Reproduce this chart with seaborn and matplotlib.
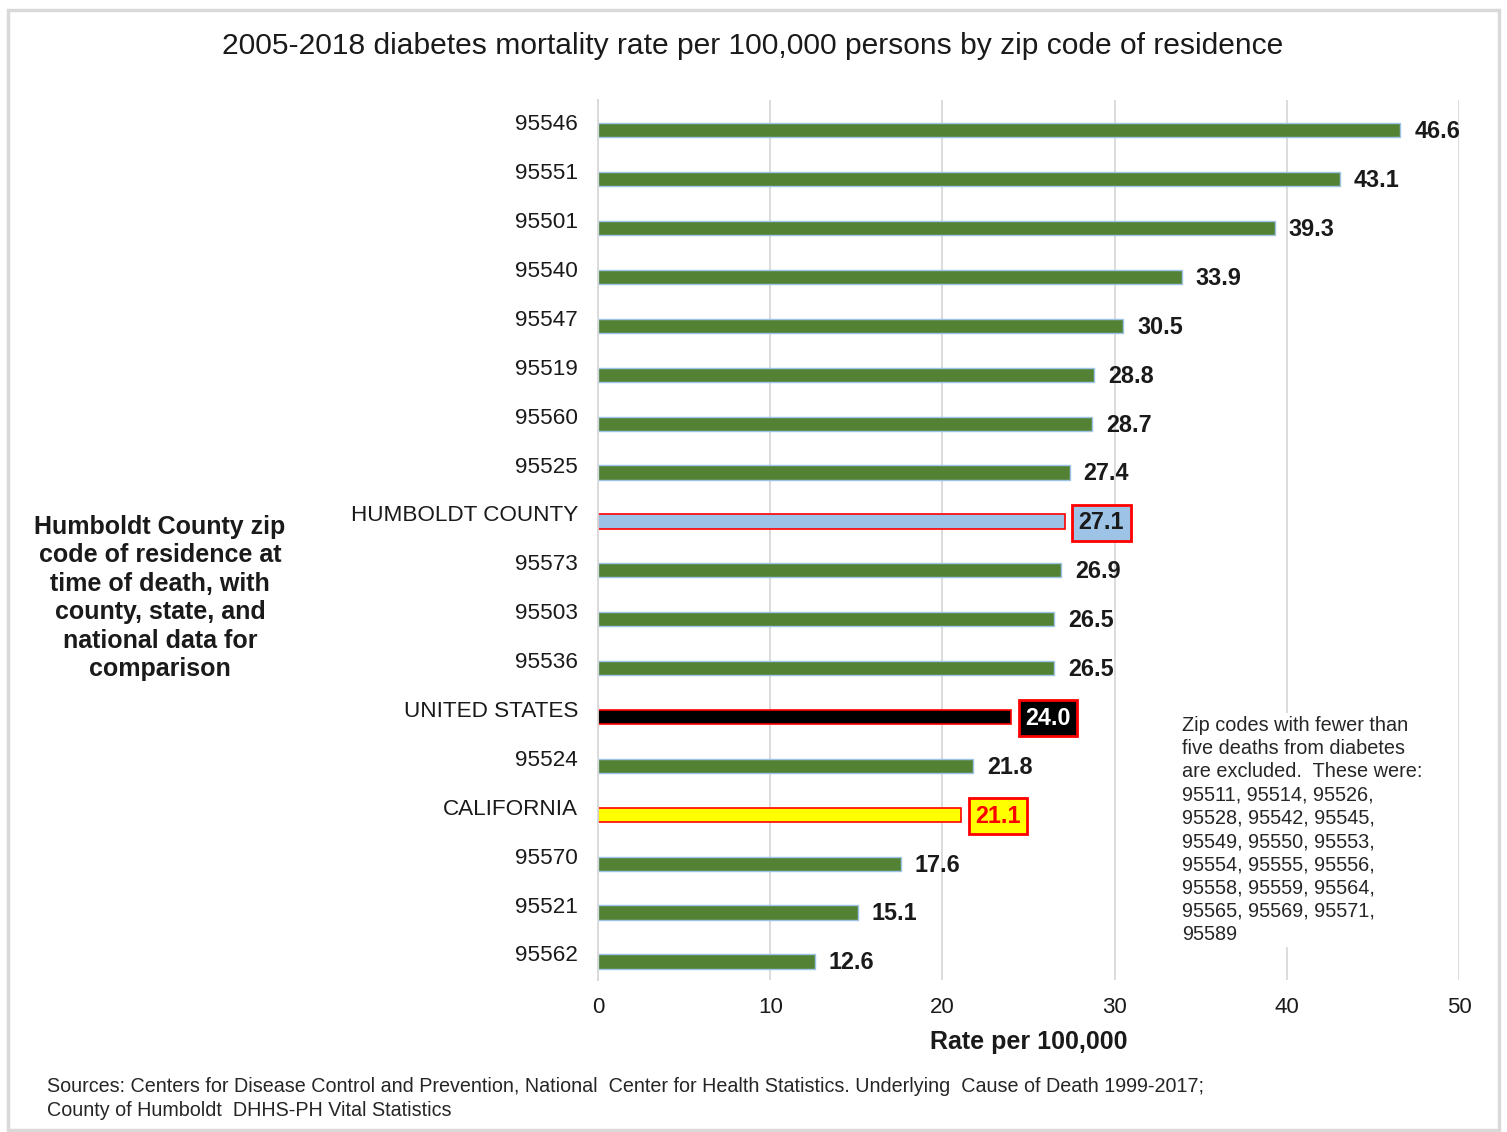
import matplotlib
matplotlib.use("Agg")
import matplotlib.pyplot as plt
import matplotlib.transforms as mtransforms
from matplotlib.patches import Rectangle
import seaborn as sns
import pandas as pd

# Diabetes mortality rate per 100,000, sorted high to low
areas = ["95546", "95551", "95501", "95540", "95547", "95519", "95560", "95525",
         "HUMBOLDT COUNTY", "95573", "95503", "95536", "UNITED STATES", "95524",
         "CALIFORNIA", "95570", "95521", "95562"]
rates = [46.6, 43.1, 39.3, 33.9, 30.5, 28.8, 28.7, 27.4,
         27.1, 26.9, 26.5, 26.5, 24.0, 21.8,
         21.1, 17.6, 15.1, 12.6]

x_ticks = [0, 10, 20, 30, 40, 50]

title_text = "2005-2018 diabetes mortality rate per 100,000 persons by zip code of residence"
ylabel_text = ("Humboldt County zip\ncode of residence at\ntime of death, with\n"
               "county, state, and\nnational data for\ncomparison")
xlabel_text = "Rate per 100,000"
note_text = ("Zip codes with fewer than\nfive deaths from diabetes\n"
             "are excluded.  These were:\n95511, 95514, 95526,\n95528, 95542, 95545,\n"
             "95549, 95550, 95553,\n95554, 95555, 95556,\n95558, 95559, 95564,\n"
             "95565, 95569, 95571,\n95589")
source_text = ("Sources: Centers for Disease Control and Prevention, National  Center for Health Statistics. "
               "Underlying  Cause of Death 1999-2017;\nCounty of Humboldt  DHHS-PH Vital Statistics")

GREEN = "#548235"
LIGHT_BLUE = "#9DC3E6"
RED = "#FF0000"

# Reference areas get their own fill and a red outline
highlight = {
    "HUMBOLDT COUNTY": {"face": LIGHT_BLUE, "text": "#1a1a1a"},
    "UNITED STATES": {"face": "#000000", "text": "#FFFFFF"},
    "CALIFORNIA": {"face": "#FFFF00", "text": RED},
}

palette = {a: highlight[a]["face"] if a in highlight else GREEN for a in areas}

df = pd.DataFrame({"area": areas, "rate": rates})

sns.set_theme(style="white")
plt.rcParams["font.family"] = ["Liberation Sans", "DejaVu Sans"]

fig = plt.figure(figsize=(15.07, 11.32), dpi=100)
ax = fig.add_axes([598 / 1507, 1 - 980 / 1132, 861 / 1507, 880 / 1132])

sns.barplot(data=df, y="area", x="rate", hue="area", palette=palette,
            order=areas, hue_order=areas, orient="h", width=0.29,
            legend=False, saturation=1, ax=ax)

# Outline colours per bar
bars = sorted(ax.patches, key=lambda p: p.get_y())
for area, patch in zip(areas, bars):
    if area in highlight:
        patch.set_edgecolor(RED)
        patch.set_linewidth(1.2)
    else:
        patch.set_edgecolor(LIGHT_BLUE)
        patch.set_linewidth(1.0)

ax.set_xlim(0, 50)
ax.set_ylim(len(areas) - 0.62, -0.62)
ax.set_xticks(x_ticks)
ax.set_xticklabels([str(t) for t in x_ticks], fontsize=16, color="#1a1a1a")
ax.tick_params(axis="x", length=0, pad=12)
ax.tick_params(axis="y", length=0, pad=14.4, labelsize=16.2, labelcolor="#1a1a1a")

# Category labels sit a little above their bars
offset = mtransforms.ScaledTranslation(0, 8 / 100, fig.dpi_scale_trans)
for lbl in ax.get_yticklabels():
    lbl.set_transform(lbl.get_transform() + offset)

ax.xaxis.grid(True, color="#D9D9D9", linewidth=1.3)
ax.yaxis.grid(False)
ax.set_axisbelow(True)
for side in ["top", "right", "bottom"]:
    ax.spines[side].set_visible(False)
ax.spines["left"].set_color("#D9D9D9")
ax.spines["left"].set_linewidth(1.3)

ax.set_ylabel("")
ax.set_xlabel(xlabel_text, fontsize=18, fontweight="bold", color="#1a1a1a",
              verticalalignment="center")
ax.xaxis.set_label_coords((1029 - 598) / 861, -(1042 - 980) / 880)

# Value labels
for i, (area, val) in enumerate(zip(areas, rates)):
    if area in highlight:
        h = highlight[area]
        ax.annotate(f"{val:.1f}", xy=(val, i), xytext=(10, -1), textcoords="offset points",
                    ha="left", va="center", fontsize=16.8, fontweight="bold", color=h["text"],
                    bbox=dict(boxstyle="square,pad=0.28", facecolor=h["face"],
                              edgecolor=RED, linewidth=2))
    else:
        ax.annotate(f"{val:.1f}", xy=(val, i), xytext=(10, -1), textcoords="offset points",
                    ha="left", va="center", fontsize=16.8, fontweight="bold", color="#1a1a1a")

fig.text(753 / 1507, 1 - 46 / 1132, title_text, ha="center", va="center",
         fontsize=21.6, color="#1a1a1a")

fig.text(160 / 1507, 1 - 598 / 1132, ylabel_text, ha="center", va="center",
         fontsize=18, fontweight="bold", color="#1a1a1a", linespacing=1.24)

fig.text(1182 / 1507, 1 - 716 / 1132, note_text, ha="left", va="top",
         fontsize=14.3, color="#262626", linespacing=1.28,
         bbox=dict(facecolor="white", edgecolor="none", pad=2))

fig.text(47 / 1507, 1 - 1077 / 1132, source_text, ha="left", va="top",
         fontsize=14.2, color="#262626", linespacing=1.3)

# Light frame around the whole figure
fig.patches.append(Rectangle((8 / 1507, 2 / 1132), 1491 / 1507, 1120 / 1132,
                             transform=fig.transFigure, fill=False,
                             edgecolor="#D9D9D9", linewidth=2.5))

fig.savefig("out.png", dpi=100)
